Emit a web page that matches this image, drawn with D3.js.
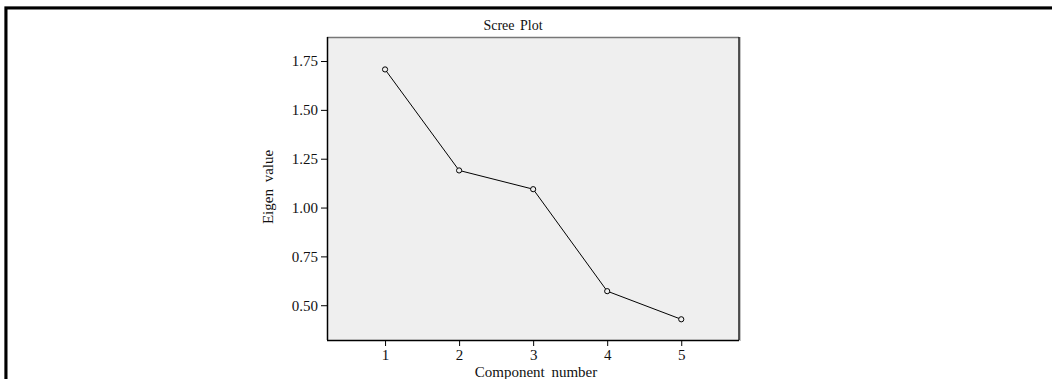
<!DOCTYPE html>
<html>
<head>
<meta charset="utf-8">
<script src="https://cdn.jsdelivr.net/npm/d3@7"></script>
<style>
  body { margin: 0; background: #fff; }
  text { font-family: "Liberation Serif", "Times New Roman", serif; fill: #111; }
</style>
</head>
<body>
<div class="canvas"></div>
<script>
// chart data
const components = [1, 2, 3, 4, 5];
const eigenValues = [1.707, 1.19, 1.094, 0.572, 0.428];
const yTicks = [0.50, 0.75, 1.00, 1.25, 1.50, 1.75];

const dims = { w: 1052, h: 379 };
const plot = { left: 327, top: 37, right: 739, bottom: 340 };

const svg = d3.select('.canvas')
  .append('svg')
    .attr('width', dims.w)
    .attr('height', dims.h);

// outer frame (top + left edges, with a light shadow)
svg.append('path')
  .attr('d', `M4.5,${dims.h} V6.5 H${dims.w}`)
  .attr('fill', 'none')
  .attr('stroke', '#bbb')
  .attr('stroke-width', 1);
svg.append('path')
  .attr('d', `M6,${dims.h} V8 H${dims.w}`)
  .attr('fill', 'none')
  .attr('stroke', '#000')
  .attr('stroke-width', 3);

// scales
const x = d3.scaleLinear()
  .domain([0.216, 5.78])
  .range([plot.left, plot.right]);

const y = d3.scaleLinear()
  .domain([0.322, 1.873])
  .range([plot.bottom, plot.top]);

// plot background
svg.append('rect')
  .attr('x', plot.left)
  .attr('y', plot.top)
  .attr('width', plot.right - plot.left)
  .attr('height', plot.bottom - plot.top)
  .attr('fill', '#efefef');

// plot border: grey top, dark right with shadow, black left/bottom
svg.append('line')
  .attr('x1', plot.left).attr('x2', plot.right)
  .attr('y1', plot.top + 0.5).attr('y2', plot.top + 0.5)
  .attr('stroke', '#777').attr('stroke-width', 1.5);
svg.append('line')
  .attr('x1', plot.right + 1).attr('x2', plot.right + 1)
  .attr('y1', plot.top).attr('y2', plot.bottom + 1)
  .attr('stroke', '#888').attr('stroke-width', 1);
svg.append('line')
  .attr('x1', plot.right).attr('x2', plot.right)
  .attr('y1', plot.top).attr('y2', plot.bottom)
  .attr('stroke', '#222').attr('stroke-width', 1.5);

// axes
const xAxis = d3.axisBottom(x)
  .tickValues(components)
  .tickFormat(d3.format('d'))
  .tickSize(6)
  .tickSizeOuter(0);

const yAxis = d3.axisLeft(y)
  .tickValues(yTicks)
  .tickFormat(d3.format('.2f'))
  .tickSize(6)
  .tickSizeOuter(0);

const xG = svg.append('g')
  .attr('transform', `translate(0,${plot.bottom})`)
  .call(xAxis);

const yG = svg.append('g')
  .attr('transform', `translate(${plot.left},0)`)
  .call(yAxis);

[xG, yG].forEach(g => {
  g.select('.domain').attr('stroke', '#000').attr('stroke-width', 1.5);
  g.selectAll('.tick line').attr('stroke', '#000');
  g.selectAll('.tick text')
    .attr('font-family', '"Liberation Serif", serif')
    .attr('font-size', 15)
    .attr('fill', '#111');
});
xG.select('.domain').attr('d', `M${plot.left},0.5H${plot.right}`);
yG.select('.domain').attr('d', `M0.5,${plot.top}V${plot.bottom}`);
xG.selectAll('.tick text').attr('y', 9);
yG.selectAll('.tick text').attr('x', -9);

// line + markers
const line = d3.line()
  .x((d, i) => x(components[i]))
  .y(d => y(d));

svg.append('path')
  .datum(eigenValues)
  .attr('d', line)
  .attr('fill', 'none')
  .attr('stroke', '#000')
  .attr('stroke-width', 1);

svg.selectAll('circle.pt')
  .data(eigenValues)
  .enter()
  .append('circle')
    .attr('class', 'pt')
    .attr('cx', (d, i) => x(components[i]))
    .attr('cy', d => y(d))
    .attr('r', 2.6)
    .attr('fill', '#efefef')
    .attr('stroke', '#000')
    .attr('stroke-width', 1);

// titles
svg.append('text')
  .attr('x', 513)
  .attr('y', 30)
  .attr('text-anchor', 'middle')
  .attr('font-size', 14)
  .attr('word-spacing', 2)
  .text('Scree Plot');

svg.append('text')
  .attr('x', 536)
  .attr('y', 377)
  .attr('text-anchor', 'middle')
  .attr('font-size', 15)
  .attr('word-spacing', 3)
  .text('Component number');

svg.append('text')
  .attr('transform', `translate(273,187) rotate(-90)`)
  .attr('text-anchor', 'middle')
  .attr('font-size', 15)
  .attr('word-spacing', 3)
  .text('Eigen value');
</script>
</body>
</html>
